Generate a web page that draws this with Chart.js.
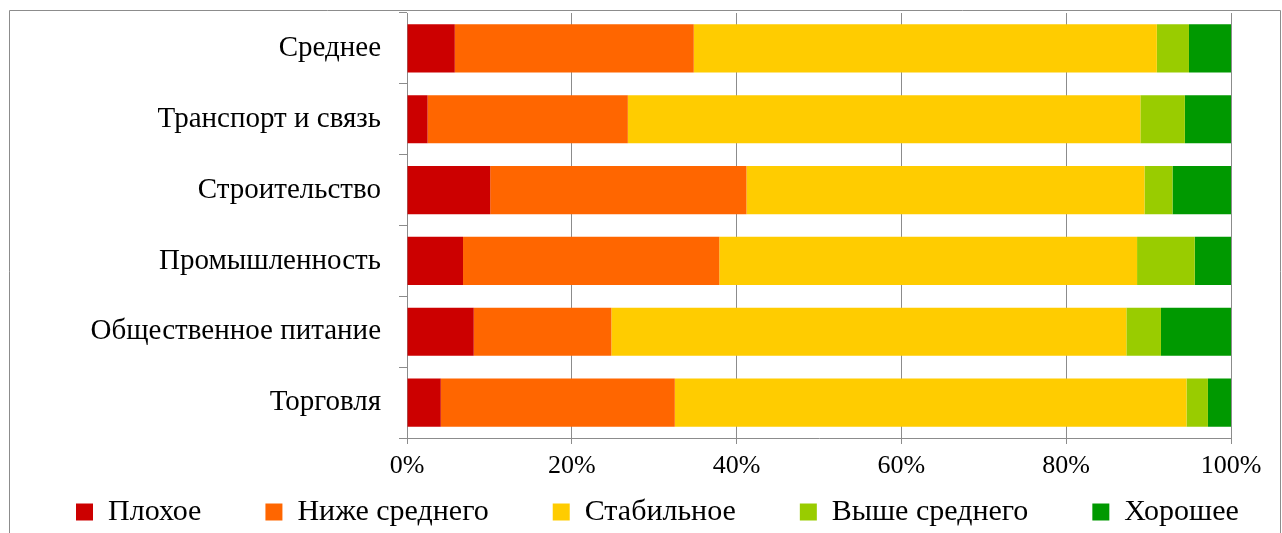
<!DOCTYPE html>
<html>
<head>
<meta charset="utf-8">
<script src="https://cdn.jsdelivr.net/npm/chart.js@4"></script>
<style>
  html, body { margin: 0; padding: 0; background: #fff; }
  #wrap { width: 1282px; height: 533px; position: relative; }
</style>
</head>
<body>
<div id="wrap"><canvas id="myChart"></canvas></div>
<script>
var categories = ['Среднее', 'Транспорт и связь', 'Строительство', 'Промышленность', 'Общественное питание', 'Торговля'];
var plokhoe = [5.8, 2.5, 10.1, 6.8, 8.1, 4.1];
var nizheSrednego = [29.0, 24.3, 31.1, 31.1, 16.7, 28.4];
var stabilnoe = [56.2, 62.2, 48.3, 50.7, 62.5, 62.1];
var vysheSrednego = [3.9, 5.4, 3.4, 7.0, 4.2, 2.6];
var khoroshee = [5.1, 5.6, 7.1, 4.4, 8.5, 2.8];
var xTicks = [0, 20, 40, 60, 80, 100];

var serif = '"Liberation Serif", "Times New Roman", serif';
var legendGap = 64;

var framePlugin = {
    id: 'frame',
    beforeInit: function(chart) {
        // legend padding is only wanted between items, not above/below them
        var legend = chart.legend;
        var origFit = legend.fit;
        var origDraw = legend.draw;
        legend.fit = function() {
            this.maxWidth = 1600; // keep all items on one row
            origFit.call(this);
            this.height = 45;
        };
        legend.draw = function() {
            var t = this.top, l = this.left, r = this.right;
            this.top = t - legendGap + 9;
            this.left = 76 - legendGap;
            this.right = 1600;
            origDraw.call(this);
            this.top = t; this.left = l; this.right = r;
        };
    },
    afterDraw: function(chart) {
        // outer frame like the Excel chart area
        var c = chart.ctx;
        c.save();
        c.strokeStyle = '#8c8c8c';
        c.lineWidth = 1;
        c.beginPath();
        c.moveTo(9.5, 533);
        c.lineTo(9.5, 10.5);
        c.lineTo(1280.5, 10.5);
        c.lineTo(1280.5, 533);
        c.stroke();
        c.restore();
    }
};

document.addEventListener('DOMContentLoaded', function() {
    var ctx = document.getElementById('myChart').getContext('2d');
    function ds(label, data, color) {
        return { label: label, data: data, backgroundColor: color, borderWidth: 0,
                 barPercentage: 0.68, categoryPercentage: 1.0 };
    }
    var myChart = new Chart(ctx, {
        type: 'bar',
        data: {
            labels: categories,
            datasets: [
                ds('Плохое', plokhoe, '#CC0000'),
                ds('Ниже среднего', nizheSrednego, '#FF6600'),
                ds('Стабильное', stabilnoe, '#FFCC00'),
                ds('Выше среднего', vysheSrednego, '#99CC00'),
                ds('Хорошее', khoroshee, '#009900')
            ]
        },
        options: {
            indexAxis: 'y',
            responsive: true,
            maintainAspectRatio: false,
            animation: false,
            layout: { padding: { left: 0, right: 51, top: 13, bottom: 0 } },
            plugins: {
                tooltip: { enabled: false },
                legend: {
                    position: 'bottom',
                    align: 'start',
                    labels: {
                        boxWidth: 17,
                        boxHeight: 17,
                        padding: legendGap,
                        color: '#000',
                        font: { family: serif, size: 30 }
                    }
                }
            },
            scales: {
                x: {
                    stacked: true,
                    min: 0,
                    max: 100,
                    afterBuildTicks: function(scale) {
                        scale.ticks = xTicks.map(function(v) { return { value: v }; });
                    },
                    afterFit: function(scale) { scale.height = 50; },
                    grid: { color: '#8c8c8c', lineWidth: 1, tickLength: 6 },
                    border: { color: '#8c8c8c' },
                    ticks: {
                        padding: 7,
                        color: '#000',
                        font: { family: serif, size: 26 },
                        callback: function(v) { return v + '%'; }
                    }
                },
                y: {
                    stacked: true,
                    afterFit: function(scale) {
                        scale.width = 407;
                        scale.paddingTop = 0;
                        scale.paddingBottom = 0;
                    },
                    grid: { drawOnChartArea: false, color: '#8c8c8c', tickLength: 8, offset: true },
                    border: { color: '#8c8c8c' },
                    ticks: {
                        padding: 18,
                        color: '#000',
                        font: { family: serif, size: 29 }
                    }
                }
            }
        },
        plugins: [framePlugin]
    });
});
</script>
</body>
</html>
